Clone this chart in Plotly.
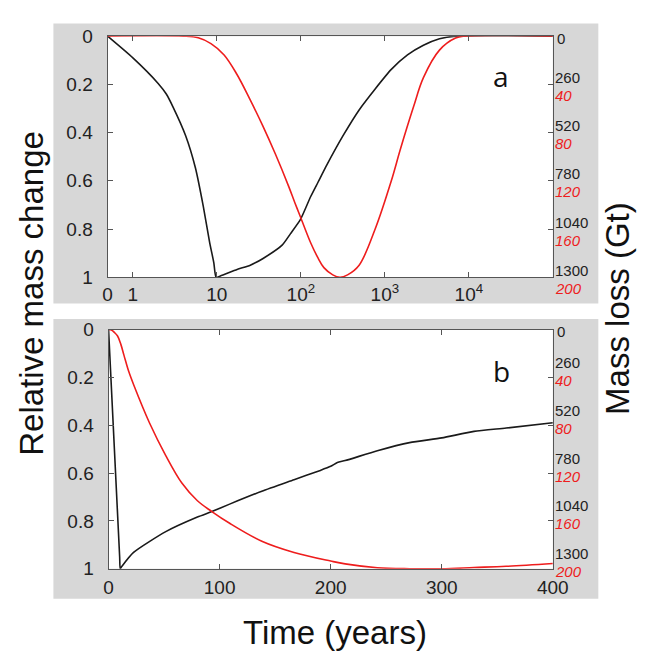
import plotly.graph_objects as go

# Panel a: log time axis (the "0" tick sits at the left edge, t = 0.5)
t_a_black = [0.5, 1.0, 2.0, 2.5, 3.0, 4.25, 5.55, 6.9, 8.2, 9.2, 9.8, 11, 17.4, 25, 35.5, 59.8, 75, 99,
             131, 160, 204, 318, 494, 767, 1194, 1860, 2880, 4470, 6950, 100000]
v_a_black = [0.0, 0.09, 0.196, 0.24, 0.293, 0.413, 0.546, 0.707, 0.855, 0.94, 1.0, 0.995, 0.968, 0.95,
             0.922, 0.867, 0.82, 0.76, 0.665, 0.606, 0.534, 0.413, 0.306, 0.219, 0.138, 0.078, 0.038,
             0.011, 0.0, 0.0]

t_a_red = [0.5, 4.0, 6.0, 8.5, 12.2, 17.3, 24.6, 35, 49.9, 71, 84.6, 99, 132, 160, 188, 240, 292,
           360, 494, 767, 1194, 1540, 2200, 2880, 4470, 6950, 9000, 100000]
v_a_red = [0.0, 0.0, 0.007, 0.031, 0.078, 0.158, 0.26, 0.37, 0.49, 0.62, 0.69, 0.75, 0.86, 0.92,
           0.96, 0.99, 1.0, 0.99, 0.95, 0.80, 0.60, 0.466, 0.292, 0.172, 0.058, 0.008, 0.0, 0.0]

# Panel b: linear time axis
t_b_black = [0, 10, 10.5, 12, 22.5, 51.5, 80, 93, 109, 138, 167, 190, 200, 206, 213, 242, 271, 300,
             329, 358, 400]
v_b_black = [0.0, 0.952, 1.0, 0.99, 0.932, 0.845, 0.784, 0.761, 0.73, 0.676, 0.628, 0.59, 0.572, 0.556,
             0.548, 0.507, 0.473, 0.453, 0.426, 0.412, 0.39]

t_b_red = [0, 3, 5.2, 8.1, 11, 13.9, 18.2, 22.5, 37, 51.5, 66, 80, 93, 109, 138, 167, 200, 213, 242,
           271, 300, 329, 358, 400]
v_b_red = [0.0, 0.003, 0.012, 0.027, 0.061, 0.108, 0.176, 0.23, 0.392, 0.527, 0.642, 0.716, 0.761,
           0.81, 0.885, 0.932, 0.968, 0.98, 0.996, 1.0, 1.0, 0.995, 0.99, 0.978]

# tick labels
rel_ticks = [0, 0.2, 0.4, 0.6, 0.8, 1.0]
rel_labels = ["0", "0.2", "0.4", "0.6", "0.8", "1"]
log_ticks = [0.5, 1, 10, 100, 1000, 10000]
log_labels = ["0", "1", "10", "10<sup>2</sup>", "10<sup>3</sup>", "10<sup>4</sup>"]
lin_ticks = [0, 100, 200, 300, 400]
gt_black = ["0", "260", "520", "780", "1040", "1300"]
gt_red = ["", "40", "80", "120", "160", "200"]

W, H = 654, 662
RED = "#ee1d1d"
BLK = "#1a1a1a"
FONT = "Liberation Sans, Arial, sans-serif"


def px(x):
    return x / W


def py(y):
    return (H - y) / H


fig = go.Figure()
fig.add_trace(go.Scatter(x=t_a_black, y=v_a_black, mode="lines",
                         line=dict(color=BLK, width=1.6, shape="spline", smoothing=0.6),
                         xaxis="x", yaxis="y", showlegend=False))
fig.add_trace(go.Scatter(x=t_a_red, y=v_a_red, mode="lines", line=dict(color=RED, width=1.6, shape="spline"),
                         xaxis="x", yaxis="y", showlegend=False))
fig.add_trace(go.Scatter(x=t_b_black, y=v_b_black, mode="lines",
                         line=dict(color=BLK, width=1.6, shape="spline", smoothing=0.6),
                         xaxis="x2", yaxis="y2", showlegend=False))
fig.add_trace(go.Scatter(x=t_b_red, y=v_b_red, mode="lines", line=dict(color=RED, width=1.6, shape="spline"),
                         xaxis="x2", yaxis="y2", showlegend=False))

axis_common = dict(showline=True, linecolor="#555555", linewidth=1, mirror="ticks", ticks="inside",
                   ticklen=5, tickcolor="#555555", showgrid=False, zeroline=False,
                   tickfont=dict(family=FONT, size=19, color="#222222"))

fig.update_layout(
    width=W, height=H,
    margin=dict(l=0, r=0, t=0, b=0),
    paper_bgcolor="white", plot_bgcolor="white",
    xaxis=dict(domain=[px(106), px(566)], type="log", range=[-0.301, 5.0], anchor="y",
               tickvals=log_ticks, ticktext=log_labels, ticklabelstandoff=0, **axis_common),
    yaxis=dict(domain=[py(276), py(27)], range=[1, 0], anchor="x",
               tickvals=rel_ticks, ticktext=rel_labels, ticklabelstandoff=10, **axis_common),
    xaxis2=dict(domain=[px(107), px(566)], range=[0, 400], anchor="y2",
                tickvals=lin_ticks, ticklabelstandoff=2, **axis_common),
    yaxis2=dict(domain=[py(577), py(330)], range=[1, 0], anchor="x2",
                tickvals=rel_ticks, ticktext=rel_labels, ticklabelstandoff=10, **axis_common),
)

# gray panel backgrounds with white plot areas on top
for y0, y1 in [(14, 303), (319, 608)]:
    fig.add_shape(type="rect", xref="paper", yref="paper", x0=px(50), x1=px(613), y0=py(y1), y1=py(y0),
                  fillcolor="#d7d7d7", line=dict(width=0), layer="below")
for x0, y0, y1 in [(106, 27, 276), (107, 330, 577)]:
    fig.add_shape(type="rect", xref="paper", yref="paper", x0=px(x0), x1=px(566), y0=py(y1), y1=py(y0),
                  fillcolor="white", line=dict(width=0), layer="below")

# right-hand mass loss labels (black above the tick, red italic below)
for yref, up, down in [("y", 7, -11), ("y2", 15, -3)]:
    for i, v in enumerate(rel_ticks):
        if i == 0:
            fig.add_annotation(x=px(568), y=v, xref="paper", yref=yref, text=gt_black[i], showarrow=False,
                               xanchor="left", yanchor="middle", yshift=-2,
                               font=dict(family=FONT, size=15, color="#222222"))
            continue
        fig.add_annotation(x=px(566), y=v, xref="paper", yref=yref, text=gt_black[i], showarrow=False,
                           xanchor="left", yanchor="middle", yshift=up,
                           font=dict(family=FONT, size=15, color="#222222"))
        fig.add_annotation(x=px(566), y=v, xref="paper", yref=yref, text="<i>" + gt_red[i] + "</i>",
                           showarrow=False, xanchor="left", yanchor="middle", yshift=down,
                           font=dict(family=FONT, size=15, color=RED))

# titles and panel letters
titles = [("Relative mass change", 28, 293, -90, 33, FONT),
          ("Mass loss (Gt)", 633, 308, -90, 33, FONT),
          ("Time (years)", 341, 643, 0, 33, FONT),
          ("a", 512, 68, 0, 28, "Open Sans"),
          ("b", 513, 373, 0, 28, "Open Sans")]
for text, x, y, ang, size, fam in titles:
    fig.add_annotation(x=px(x), y=py(y), xref="paper", yref="paper", text=text, textangle=ang,
                       showarrow=False, xanchor="center", yanchor="middle",
                       font=dict(family=fam, size=size, color="#111111"))

# drop the default page margin so the figure sits at the window's top-left corner
fig.write_html("out.html", config={"displayModeBar": False},
               post_script="document.body.style.margin='0';document.body.style.overflow='hidden';")
